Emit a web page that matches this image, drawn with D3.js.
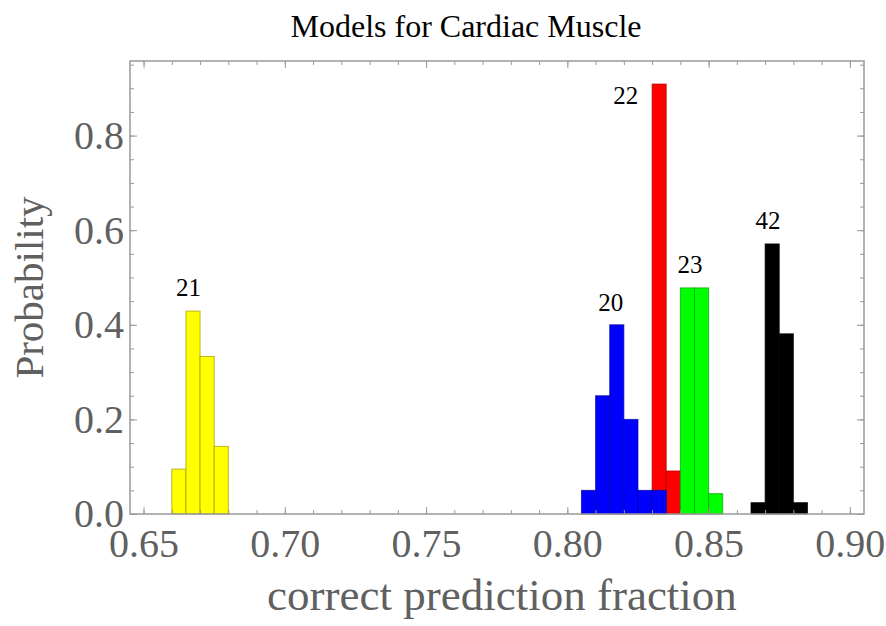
<!DOCTYPE html>
<html>
<head>
<meta charset="utf-8">
<script src="https://cdn.jsdelivr.net/npm/d3@7"></script>
<style>
    body { margin: 0; background: #fff; }
    text { font-family: "Liberation Serif", "Times New Roman", serif; }
</style>
</head>
<body>
<div id="chart"></div>
<script>
// histogram of correct prediction fraction, one set of bins per model group

// bin width on the x axis
const binWidth = 0.005;

// left edges of the bins and probability in each bin
const yellowBins = [0.660, 0.665, 0.670, 0.675];
const yellowProb = [0.095, 0.429, 0.333, 0.143];

const redBins = [0.830, 0.835];
const redProb = [0.909, 0.091];

const blueBins = [0.805, 0.810, 0.815, 0.820, 0.825, 0.830];
const blueProb = [0.05, 0.25, 0.40, 0.20, 0.05, 0.05];

const greenBins = [0.840, 0.845, 0.850];
const greenProb = [0.478, 0.478, 0.043];

const blackBins = [0.865, 0.870, 0.875, 0.880];
const blackProb = [0.024, 0.571, 0.381, 0.024];

// number of models, placed above each group (x value, probability)
const countLabels = ["21", "22", "20", "23", "42"];
const countX = [0.6659, 0.8207, 0.8154, 0.8434, 0.8710];
const countY = [0.461, 0.867, 0.429, 0.5095, 0.6025];

const xTicks = [0.65, 0.70, 0.75, 0.80, 0.85, 0.90];
const yTicks = [0.0, 0.2, 0.4, 0.6, 0.8];

// svg size
const svgWidth = 886;
const svgHeight = 626;

// frame edges
const frame = { left: 130, right: 864, top: 61, bottom: 514 };

const svg = d3.select("#chart")
    .append("svg")
    .attr("width", svgWidth)
    .attr("height", svgHeight);

svg.append("rect")
    .attr("width", svgWidth)
    .attr("height", svgHeight)
    .attr("fill", "#fff");

const x = d3.scaleLinear()
    .domain([0.6452, 0.9050])
    .range([frame.left, frame.right]);

const y = d3.scaleLinear()
    .domain([0, 0.9577])
    .range([frame.bottom, frame.top]);

// bars, red goes under blue like in the original
const groups = [
    { bins: yellowBins, prob: yellowProb, color: "#ffff00", edge: "#9a9a00" },
    { bins: redBins, prob: redProb, color: "#ff0000", edge: "#b00000" },
    { bins: blueBins, prob: blueProb, color: "#0000ff", edge: "#00009a" },
    { bins: greenBins, prob: greenProb, color: "#00ff00", edge: "#00a000" },
    { bins: blackBins, prob: blackProb, color: "#000000", edge: "#000000" }
];

const barsGroup = svg.append("g");

groups.forEach(function(g) {
    const rows = g.bins.map((b, i) => ({ x0: b, p: g.prob[i] }));
    barsGroup.append("g")
        .selectAll("rect")
        .data(rows)
        .enter()
        .append("rect")
        .attr("x", d => x(d.x0))
        .attr("y", d => y(d.p))
        .attr("width", d => x(d.x0 + binWidth) - x(d.x0))
        .attr("height", d => y(0) - y(d.p))
        .attr("fill", g.color)
        .attr("stroke", g.edge)
        .attr("stroke-opacity", 0.7)
        .attr("stroke-width", 1);
});

// frame ticks, pointing inward
const tickColor = "#999";
const xMinor = d3.range(65, 91).map(d => d / 100);
const yMinor = d3.range(0, 20).map(d => d * 0.05);

function styleAxis(a) {
    a.select(".domain").remove();
    a.selectAll("line").attr("stroke", tickColor);
    a.selectAll("text")
        .attr("fill", "#606060")
        .style("font-size", "40px");
}

svg.append("g")
    .attr("transform", `translate(0, ${frame.bottom})`)
    .call(d3.axisBottom(x).tickValues(xMinor).tickSize(-4).tickFormat(""))
    .call(styleAxis);
svg.append("g")
    .attr("transform", `translate(0, ${frame.bottom})`)
    .call(d3.axisBottom(x).tickValues(xTicks).tickSize(-7).tickPadding(15).tickFormat(d3.format(".2f")))
    .call(styleAxis);

svg.append("g")
    .attr("transform", `translate(0, ${frame.top})`)
    .call(d3.axisTop(x).tickValues(xMinor).tickSize(-4).tickFormat(""))
    .call(styleAxis);
svg.append("g")
    .attr("transform", `translate(0, ${frame.top})`)
    .call(d3.axisTop(x).tickValues(xTicks).tickSize(-7).tickFormat(""))
    .call(styleAxis);

svg.append("g")
    .attr("transform", `translate(${frame.left}, 0)`)
    .call(d3.axisLeft(y).tickValues(yMinor).tickSize(-4).tickFormat(""))
    .call(styleAxis);
svg.append("g")
    .attr("transform", `translate(${frame.left}, 0)`)
    .call(d3.axisLeft(y).tickValues(yTicks).tickSize(-7).tickPadding(6).tickFormat(d3.format(".1f")))
    .call(styleAxis);

svg.append("g")
    .attr("transform", `translate(${frame.right}, 0)`)
    .call(d3.axisRight(y).tickValues(yMinor).tickSize(-4).tickFormat(""))
    .call(styleAxis);
svg.append("g")
    .attr("transform", `translate(${frame.right}, 0)`)
    .call(d3.axisRight(y).tickValues(yTicks).tickSize(-7).tickFormat(""))
    .call(styleAxis);

// frame box
svg.append("rect")
    .attr("x", frame.left)
    .attr("y", frame.top)
    .attr("width", frame.right - frame.left)
    .attr("height", frame.bottom - frame.top)
    .attr("fill", "none")
    .attr("stroke", tickColor)
    .attr("stroke-width", 1.5);

// count labels
svg.append("g")
    .selectAll("text")
    .data(countLabels)
    .enter()
    .append("text")
    .attr("x", (d, i) => x(countX[i]))
    .attr("y", (d, i) => y(countY[i]))
    .attr("text-anchor", "middle")
    .style("font-size", "25px")
    .attr("fill", "#000")
    .text(d => d);

// title and axis labels
svg.append("text")
    .attr("x", 466)
    .attr("y", 37)
    .attr("text-anchor", "middle")
    .style("font-size", "32px")
    .attr("fill", "#000")
    .text("Models for Cardiac Muscle");

svg.append("text")
    .attr("x", 502)
    .attr("y", 610)
    .attr("text-anchor", "middle")
    .style("font-size", "45px")
    .attr("fill", "#606060")
    .text("correct prediction fraction");

svg.append("text")
    .attr("transform", `translate(43, ${(frame.top + frame.bottom) / 2}) rotate(-90)`)
    .attr("text-anchor", "middle")
    .style("font-size", "41px")
    .attr("fill", "#606060")
    .text("Probability");
</script>
</body>
</html>
